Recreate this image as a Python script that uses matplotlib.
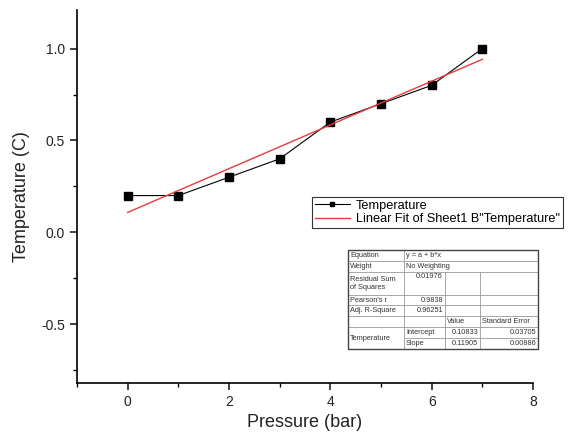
import matplotlib
matplotlib.use("Agg")
import matplotlib.pyplot as plt
import numpy as np
from matplotlib.ticker import MultipleLocator

plt.rcParams['font.family'] = ['Liberation Sans', 'DejaVu Sans']

pressure = [0, 1, 2, 3, 4, 5, 6, 7]
temperature = [0.2, 0.2, 0.3, 0.4, 0.6, 0.7, 0.8, 1.0]
intercept = 0.10833
slope = 0.11905

table_rows = [
    ["Equation", "y = a + b*x"],
    ["Weight", "No Weighting"],
    ["Residual Sum\nof Squares", "0.01976", "", ""],
    ["Pearson's r", "0.9838", "", ""],
    ["Adj. R-Square", "0.96251", "", ""],
    ["", "", "Value", "Standard Error"],
    ["Temperature", "Intercept", "0.10833", "0.03705"],
    ["", "Slope", "0.11905", "0.00886"],
]

W, H = 572, 441
fig = plt.figure(figsize=(W / 100, H / 100), dpi=100)
ax = fig.add_axes([77 / W, 1 - 383 / H, (533 - 77) / W, (383 - 10) / H])

ax.plot(pressure, temperature, color='black', lw=0.8, marker='s', ms=6,
        label='Temperature')
fx = np.array([pressure[0], pressure[-1]])
ax.plot(fx, intercept + slope * fx, color='#e83a3a', lw=1.0,
        label='Linear Fit of Sheet1 B"Temperature"')

ax.set_xlim(-1, 8)
ax.set_ylim(-0.82, 1.21)
ax.xaxis.set_minor_locator(MultipleLocator(1))
ax.yaxis.set_minor_locator(MultipleLocator(0.25))
ax.set_xticks([0, 2, 4, 6, 8])
ax.set_yticks([-0.5, 0.0, 0.5, 1.0])
ax.set_yticklabels(['-0.5', '0.0', '0.5', '1.0'])
for s in ['top', 'right']:
    ax.spines[s].set_visible(False)
for s in ['left', 'bottom']:
    ax.spines[s].set_linewidth(1.2)
ax.tick_params(which='major', direction='out', length=5, width=1.2,
               labelsize=10, colors='#222222')
ax.tick_params(which='minor', direction='out', length=3, width=1.0)
ax.set_xlabel('Pressure (bar)', fontsize=13, color='#222222', labelpad=4)
ax.set_ylabel('Temperature (C)', fontsize=13, color='#222222', labelpad=8)

leg = ax.legend(loc='upper left', bbox_to_anchor=(312 / W, 1 - 197 / H),
                bbox_transform=fig.transFigure, fontsize=9.2, frameon=True,
                fancybox=False, edgecolor='black', handlelength=2.8,
                markerscale=0.6, borderpad=0.2, labelspacing=0.12,
                handletextpad=0.45, borderaxespad=0)
leg.get_frame().set_linewidth(0.8)

# fit result table (drawn in pixel coords on an overlay)
ov = fig.add_axes([0, 0, 1, 1], zorder=5)
ov.set_xlim(0, W)
ov.set_ylim(H, 0)
ov.axis('off')
cols = [348, 404, 445, 480, 538]
rows = [250, 261, 272, 295, 305, 316, 327, 338, 349]
ov.add_patch(plt.Rectangle((cols[0], rows[0]), cols[-1] - cols[0], rows[-1] - rows[0],
                           facecolor='white', edgecolor='none', zorder=1))
lc = '#999999'
for i, y in enumerate(rows):
    if i in (0, len(rows) - 1):
        continue
    x0 = cols[1] if i == 7 else cols[0]
    ov.plot([x0, cols[-1]], [y, y], color=lc, lw=0.6, zorder=2)
ov.plot([cols[1], cols[1]], [rows[0], rows[-1]], color=lc, lw=0.6, zorder=2)
for c in (cols[2], cols[3]):
    ov.plot([c, c], [rows[2], rows[-1]], color=lc, lw=0.6, zorder=2)
ov.add_patch(plt.Rectangle((cols[0], rows[0]), cols[-1] - cols[0], rows[-1] - rows[0],
                           facecolor='none', edgecolor='#444444', lw=1.0, zorder=3))
fs = 5.3
tc = '#333333'
for r, row in enumerate(table_rows):
    ymid = (rows[r] + rows[r + 1]) / 2
    for c, txt in enumerate(row):
        if not txt:
            continue
        if c == 0:
            y = rows[7] if r == 6 else ymid
            ov.text(cols[0] + 2, y, txt, fontsize=fs, color=tc, va='center', ha='left', zorder=4,
                    linespacing=1.15)
        elif len(row) == 2:
            ov.text(cols[1] + 2, ymid, txt, fontsize=fs, color=tc, va='center', ha='left', zorder=4)
        elif r == 2 and c == 1:
            ov.text(cols[2] - 2, rows[r] + 5, txt, fontsize=fs, color=tc, va='center', ha='right', zorder=4)
        elif r == 5:
            ov.text(cols[c] + 2, ymid, txt, fontsize=fs, color=tc, va='center', ha='left', zorder=4)
        elif r >= 6 and c == 1:
            ov.text(cols[1] + 2, ymid, txt, fontsize=fs, color=tc, va='center', ha='left', zorder=4)
        else:
            ov.text(cols[c + 1] - 2, ymid, txt, fontsize=fs, color=tc, va='center', ha='right', zorder=4)

fig.savefig('out.png', dpi=100)
